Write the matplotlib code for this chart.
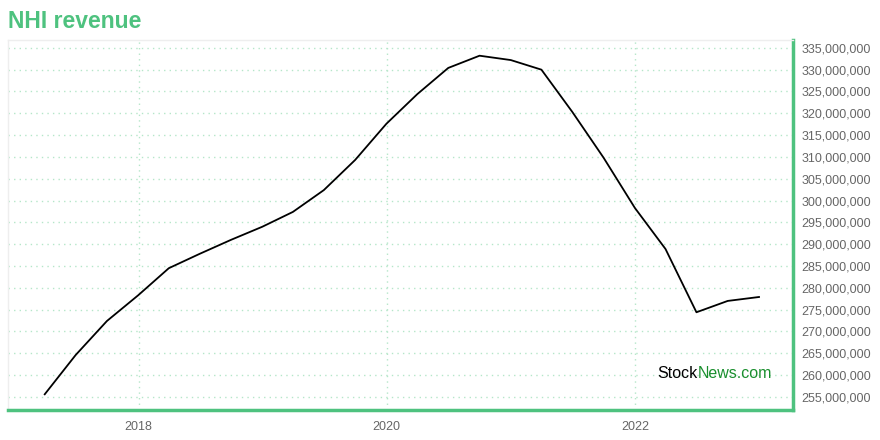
import pandas as pd
import matplotlib.pyplot as plt
import matplotlib.dates as mdates
from matplotlib.ticker import FuncFormatter, MultipleLocator

# Quarterly revenue
dates = pd.date_range("2017-03-31", periods=24, freq="QE")
revenue = [255.6, 264.6, 272.4, 278.3, 284.5, 287.8, 291.0, 294.0,
           297.4, 302.4, 309.3, 317.6, 324.4, 330.4, 333.2, 332.2,
           330.0, 320.3, 309.8, 298.3, 288.9, 274.4, 277.0, 277.9]
revenue = [v * 1e6 for v in revenue]

green = "#4ec27f"
plt.rcParams["font.family"] = ["Liberation Sans", "DejaVu Sans"]

fig = plt.figure(figsize=(8.8, 4.4), dpi=100)
ax = fig.add_axes([8 / 880, 30 / 440, 785 / 880, 370 / 440])

ax.plot(dates, revenue, color="black", linewidth=1.3)

ax.set_ylim(252.0e6, 336.8e6)
ax.set_xlim(pd.Timestamp("2016-12-13"), pd.Timestamp("2023-04-10"))

ax.yaxis.set_major_locator(MultipleLocator(5e6))
ax.yaxis.set_major_formatter(FuncFormatter(lambda v, p: f"{v:,.0f}"))
ax.yaxis.tick_right()
ax.xaxis.set_major_locator(mdates.YearLocator(2))
ax.xaxis.set_major_formatter(mdates.DateFormatter("%Y"))

ax.tick_params(axis="both", length=0, labelsize=9, colors="#666666", pad=6)
ax.tick_params(axis="x", pad=8)

ax.grid(True, color="#b5e6c9", linestyle=(0, (1, 3)), linewidth=1)

for side in ["top", "left"]:
    ax.spines[side].set_color("#eeeeee")
    ax.spines[side].set_linewidth(1)
for side in ["right", "bottom"]:
    ax.spines[side].set_color(green)
    ax.spines[side].set_linewidth(2.5)

fig.text(8 / 880, 1 - 22 / 440, "NHI revenue", color=green, fontsize=16.5,
         fontweight="bold", va="center", ha="left")

# Watermark
ax.text(0.879, 0.1, "Stock", transform=ax.transAxes, color="black",
        fontsize=11.5, ha="right", va="center")
ax.text(0.879, 0.1, "News.com", transform=ax.transAxes, color="#1a8f2e",
        fontsize=11.5, ha="left", va="center")

plt.savefig("out.png", dpi=100)
